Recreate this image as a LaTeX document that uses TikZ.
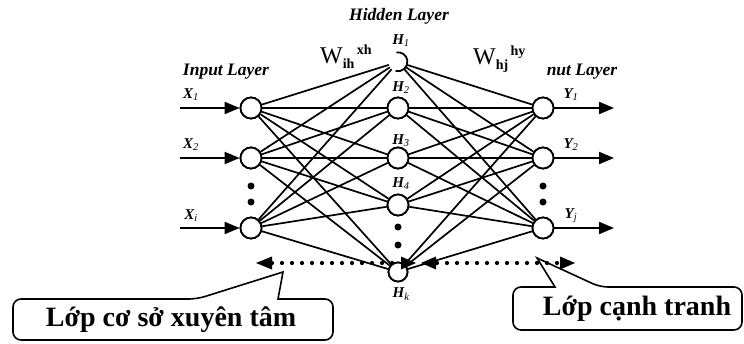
\documentclass[tikz,border=0pt]{standalone}
\usepackage{fontspec}
\setmainfont{Liberation Serif}
\usetikzlibrary{arrows.meta}
\begin{document}
\begin{tikzpicture}[x=1pt,y=-1pt,
 neuron/.style={circle,draw,line width=1.8pt,minimum size=21pt,inner sep=0pt,fill=white},
 link/.style={line width=1.7pt},
 ioarrow/.style={line width=2pt,-{Triangle[length=15pt,width=12pt]}},
 lbl/.style={font=\fontsize{15}{15}\selectfont\bfseries\itshape,inner sep=0pt},
 layerlbl/.style={font=\fontsize{17.5}{17.5}\selectfont\bfseries\itshape,inner sep=0pt},
 wlbl/.style={font=\fontsize{24}{24}\selectfont,inner sep=0pt},
 dotline/.style={line width=4.2pt,line cap=round,dash pattern=on 0pt off 10pt},
 callout/.style={line width=1.6pt},
 calltext/.style={font=\fontsize{28}{28}\selectfont\bfseries,inner sep=0pt},
 dotmark/.style={circle,fill,inner sep=0pt,minimum size=7pt}
]
\useasboundingbox (0,0) rectangle (744,343);

% input layer
\node[neuron] (X1) at (251,108) {};
\node[neuron] (X2) at (251,158) {};
\node[neuron] (Xi) at (251,228) {};
% hidden layer
\node[circle,minimum size=19pt,inner sep=0pt] (H1) at (398,62) {};
\node[neuron] (H2) at (398,108) {};
\node[neuron] (H3) at (398,158) {};
\node[neuron] (H4) at (398,205) {};
\node[neuron,minimum size=19pt] (Hk) at (398,272) {};
% output layer
\node[neuron] (Y1) at (543,108) {};
\node[neuron] (Y2) at (543,158) {};
\node[neuron] (Yj) at (543,228) {};

\draw[line width=1.8pt] (H1.100) arc[start angle=100,end angle=-105,radius=9.5pt];

% links
\foreach \a in {X1,X2,Xi}
  \foreach \b in {H1,H2,H3,H4,Hk}
    \draw[link] (\a) -- (\b);
\foreach \a in {H1,H2,H3,H4,Hk}
  \foreach \b in {Y1,Y2,Yj}
    \draw[link] (\a) -- (\b);

% redraw nodes on top
\node[neuron] at (X1) {};
\node[neuron] at (X2) {};
\node[neuron] at (Xi) {};
\node[neuron] at (H2) {};
\node[neuron] at (H3) {};
\node[neuron] at (H4) {};
\node[neuron,minimum size=19pt] at (Hk) {};
\node[neuron] at (Y1) {};
\node[neuron] at (Y2) {};
\node[neuron] at (Yj) {};

% ellipsis dots
\node[dotmark] (dx1) at (251,186) {};
\node[dotmark] (dx2) at (251,202) {};
\node[dotmark] (dh1) at (398,227) {};
\node[dotmark] (dh2) at (398,245) {};
\node[dotmark] (dy1) at (543,186) {};
\node[dotmark] (dy2) at (543,202) {};

% input / output arrows
\coordinate (ax1) at (180,108);
\coordinate (ax2) at (180,158);
\coordinate (axi) at (180,228);
\coordinate (ay1) at (614,108);
\coordinate (ay2) at (614,158);
\coordinate (ayj) at (614,228);
\draw[ioarrow] (ax1) -- (X1);
\draw[ioarrow] (ax2) -- (X2);
\draw[ioarrow] (axi) -- (Xi);
\draw[ioarrow] (Y1) -- (ay1);
\draw[ioarrow] (Y2) -- (ay2);
\draw[ioarrow] (Yj) -- (ayj);

% labels
\node[lbl] (lx1) at (191,95) {X$_{\mathit{1}}$};
\node[lbl] (lx2) at (191,145) {X$_{\mathit{2}}$};
\node[lbl] (lxi) at (191,216) {X$_{\mathit{i}}$};
\node[lbl] (ly1) at (571,95) {Y$_{\mathit{1}}$};
\node[lbl] (ly2) at (571,145) {Y$_{\mathit{2}}$};
\node[lbl] (lyj) at (571,216) {Y$_{\mathit{j}}$};
\node[lbl] (lh1) at (401,41) {H$_{\mathit{1}}$};
\node[lbl] (lh2) at (401,88) {H$_{\mathit{2}}$};
\node[lbl] (lh3) at (401,141) {H$_{\mathit{3}}$};
\node[lbl] (lh4) at (401,184) {H$_{\mathit{4}}$};
\node[lbl] (lhk) at (401,294) {H$_{\mathit{k}}$};

\node[layerlbl] (lin) at (226,72) {Input Layer};
\node[layerlbl] (lhid) at (399,16) {Hidden Layer};
\node[layerlbl] (lout) at (582,72) {nut Layer};

\node[wlbl,anchor=west] (wih) at (320,57) {W\raisebox{-5pt}{\fontsize{14}{14}\selectfont\bfseries ih}\raisebox{9pt}{\fontsize{14}{14}\selectfont\bfseries\,xh}};
\node[wlbl,anchor=west] (whj) at (473,59) {W\raisebox{-5pt}{\fontsize{14}{14}\selectfont\bfseries hj}\raisebox{9pt}{\fontsize{14}{14}\selectfont\bfseries\,hy}};

% dotted competition arrows
\coordinate (dl2) at (272,263);
\coordinate (dm1b) at (400,263);
\coordinate (dm2b) at (437,263);
\coordinate (dr2) at (559,263);
\draw[dotline] (dl2) -- (dm1b);
\draw[dotline] (dm2b) -- (dr2);
\fill (256,263) -- (272,256.5) -- (272,269.5) -- cycle;
\fill (416,263) -- (401,256.5) -- (401,269.5) -- cycle;
\fill (421,263) -- (436,256.5) -- (436,269.5) -- cycle;
\fill (575,263) -- (560,256.5) -- (560,269.5) -- cycle;

% callouts
\node[calltext] (c1) at (171,320) {Lớp cơ sở xuyên tâm};
\node[calltext] (c2) at (637,309) {Lớp cạnh tranh};
\draw[callout] (197,299) -- (283,272) -- (278,299)
  [rounded corners=8pt] -- (333,299) -- (333,340) -- (13,340) -- (13,299) -- cycle;
\draw[callout] (600,287) -- (537,258) -- (555,287)
  [rounded corners=8pt] -- (513,287) -- (513,330) -- (742,330) -- (742,287) -- cycle;
\end{tikzpicture}
\end{document}
